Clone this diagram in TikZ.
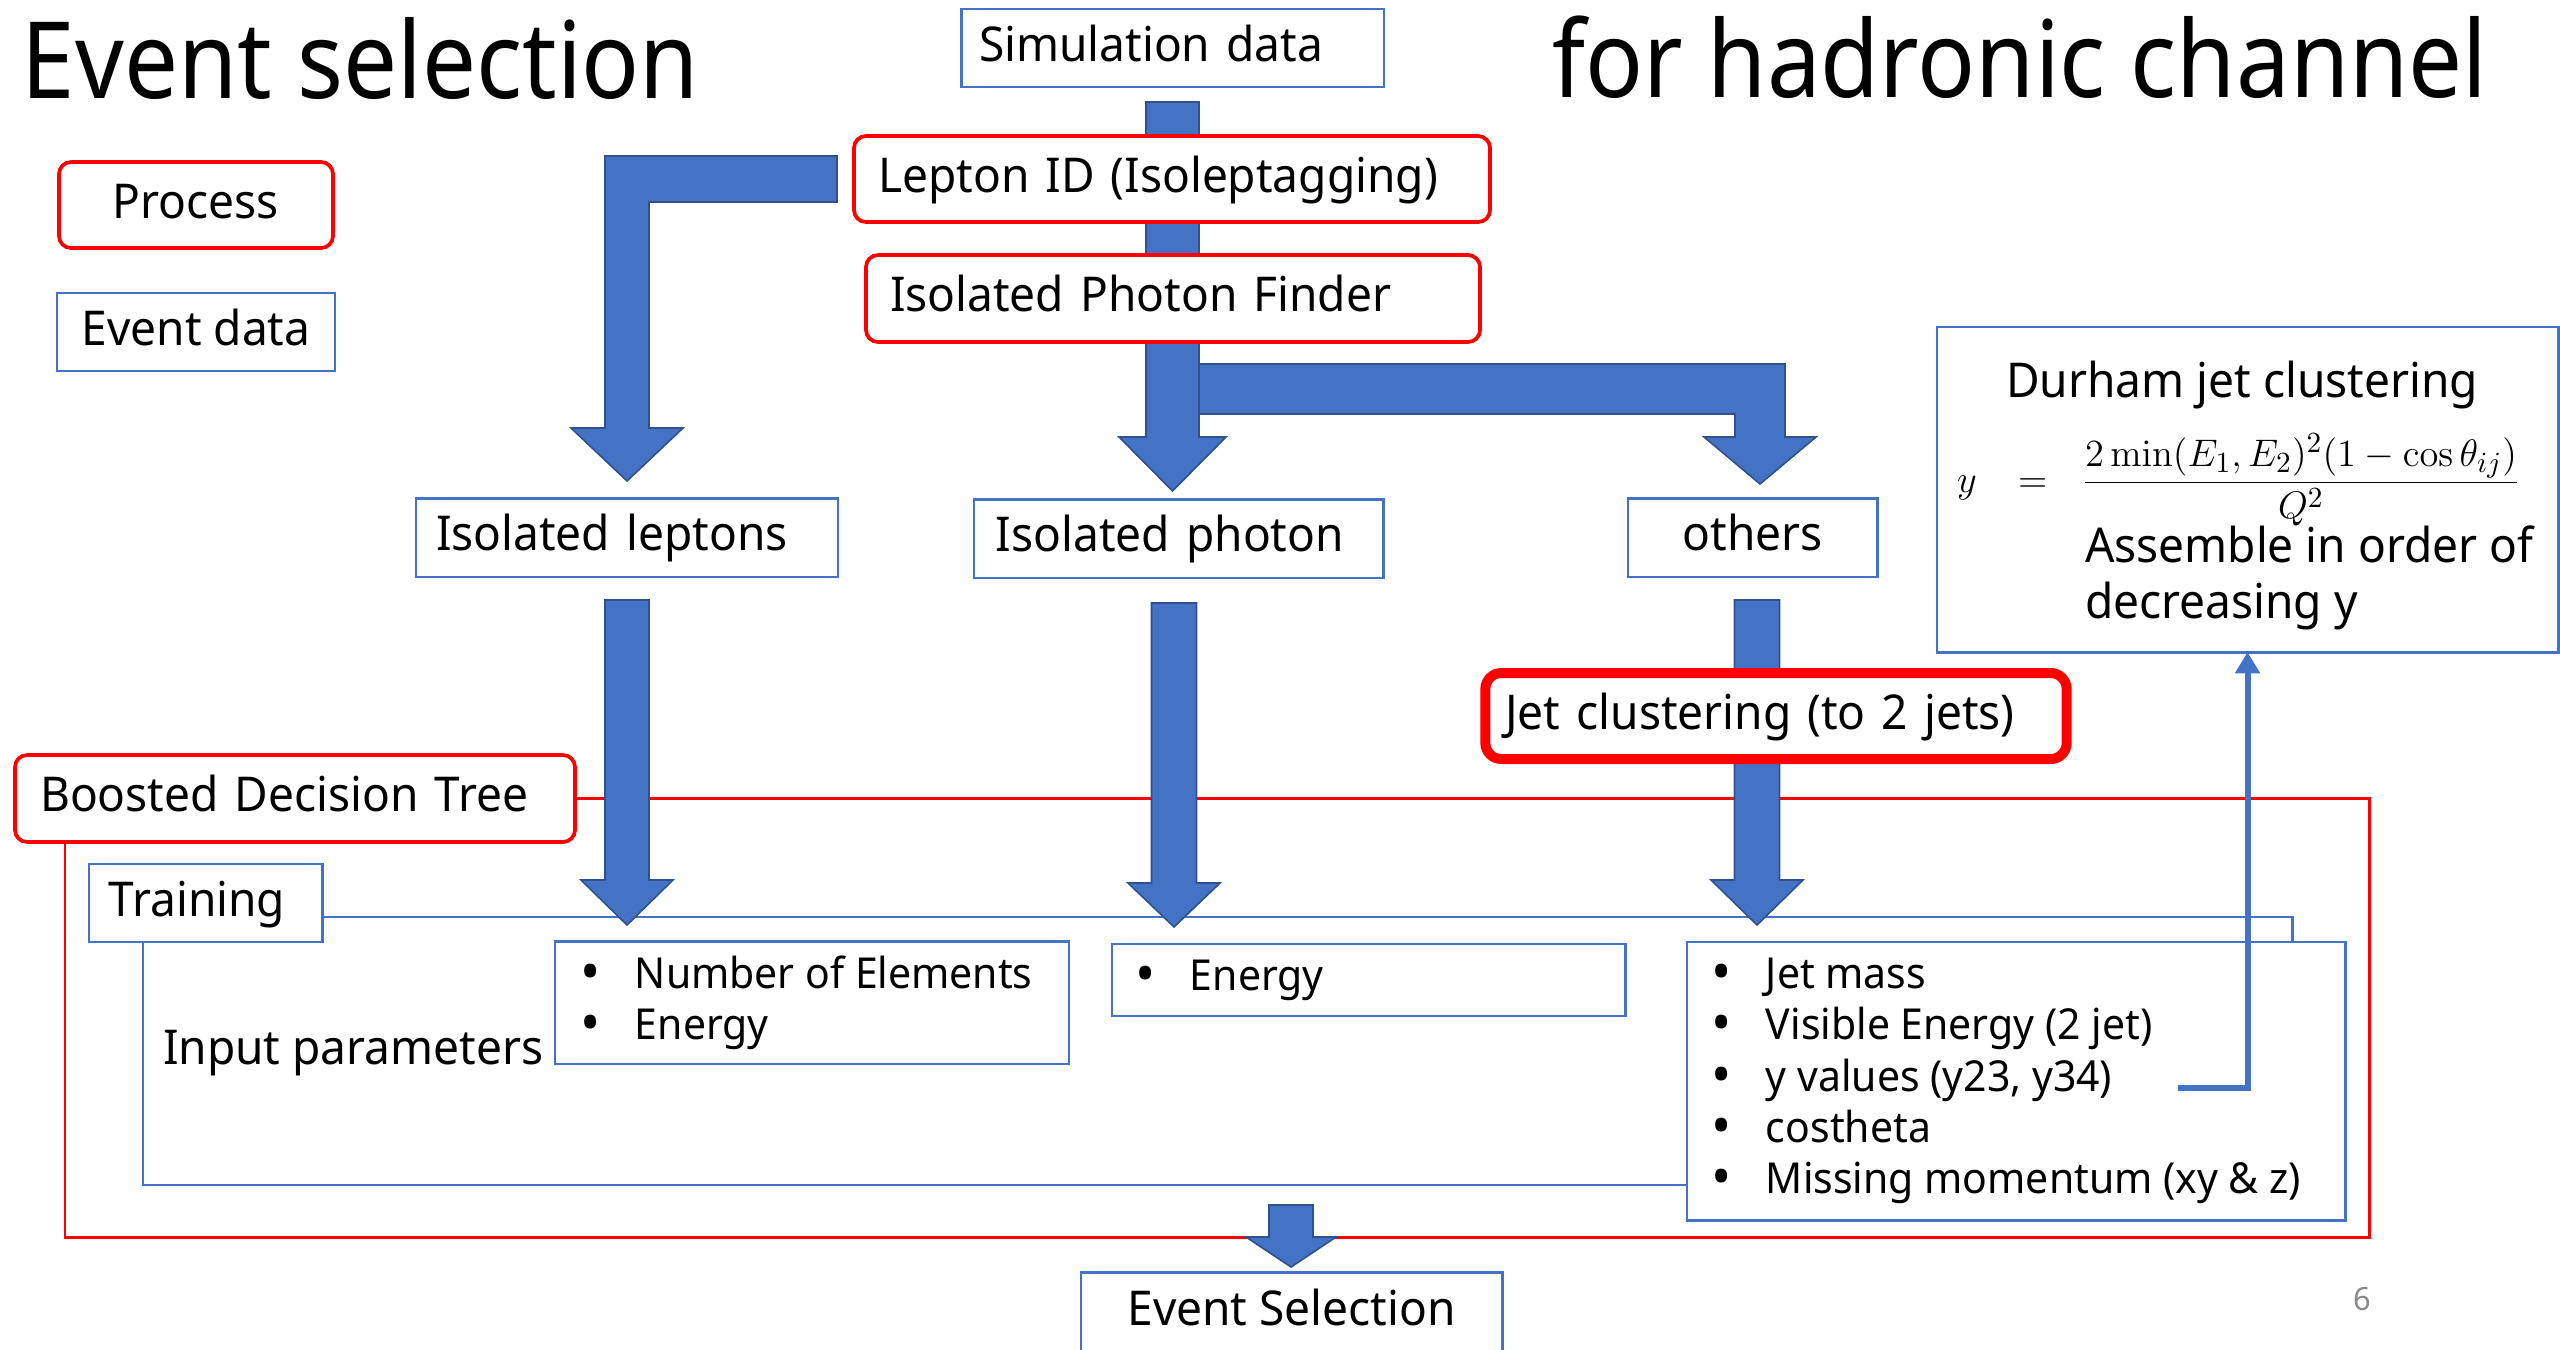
\documentclass[tikz,border=0pt]{standalone}
\usepackage[no-math]{fontspec}
\setmainfont{Noto Sans}[FakeStretch=0.96]
\newfontfamily\titlefont{Noto Sans}[FakeStretch=0.9]
\usetikzlibrary{arrows.meta,calc,backgrounds}
\definecolor{boxblue}{HTML}{4472C4}
\definecolor{fatedge}{HTML}{2F528F}
\definecolor{pagegray}{HTML}{898989}

% wide block arrow pointing down: x, top y, head base y, tip y, half shaft, half head
\newcommand{\fatdown}[6]{%
  \filldraw[fat] (#1-#5,#2) -- (#1+#5,#2) -- (#1+#5,#3) -- (#1+#6,#3) -- (#1,#4)
    -- (#1-#6,#3) -- (#1-#5,#3) -- cycle;}
% list bullet in its own column
\newcommand{\itembullet}{\makebox[20.6pt][l]{\fontsize{21}{21}\selectfont\raisebox{-1.2pt}{•}}}

\tikzset{
  every node/.style={inner sep=0pt, outer sep=0pt},
  body/.style={font=\fontsize{18}{21.6}\selectfont, text height=13.5pt, text depth=3.5pt},
  evbox/.style={body, draw=boxblue, line width=1.1pt, fill=white},
  procbox/.style={body, draw=red, line width=1.4pt, rounded corners=4.5pt, fill=white},
  plainbox/.style={draw=boxblue, line width=1.1pt, fill=white},
  fat/.style={fill=boxblue, draw=fatedge, line width=0.6pt},
  frame red/.style={draw=red, line width=1.1pt},
  frame blue/.style={draw=boxblue, line width=1.1pt},
  listtext/.style={font=\fontsize{16}{19.2}\selectfont, anchor=base west},
  titletext/.style={font=\titlefont\fontsize{40}{48}\selectfont, anchor=base west},
}

\begin{document}
\begin{tikzpicture}[x=0.375pt, y=-0.375pt]
\path[use as bounding box] (0,0) rectangle (2560,1349);

% headings
\node[titletext] (title) at (22,98) {Event selection};
\node[titletext] (subtitle) at (1552,97) {for hadronic channel};

% legend
\node[procbox, minimum width=102.75pt, minimum height=32.25pt] (proc) at (196,205) {Process};
\node[evbox, minimum width=104.25pt, minimum height=29.25pt] (evdata) at (196,332) {Event data};

% main chain
\node[evbox, align=left, text width=145.1pt, inner xsep=6.75pt, minimum height=29.25pt] (sim) at (1172.5,48) {Simulation data};
\node[procbox, align=left, text width=220.5pt, inner xsep=9pt, minimum height=32.25pt] (lep) at (1172,179) {Lepton ID (Isoleptagging)};
\node[procbox, align=left, text width=212.25pt, inner xsep=9pt, minimum height=32.6pt] (phf) at (1173,298.5) {Isolated Photon Finder};

\node[evbox, align=left, text width=143.25pt, inner xsep=7.5pt, minimum height=29.6pt] (isolep) at (627,537.5) {Isolated leptons};
\node[evbox, align=left, text width=136.9pt, inner xsep=8.25pt, minimum height=29.6pt] (isopho) at (1178.5,538.5) {Isolated photon};
\node[evbox, minimum width=93.4pt, minimum height=29.6pt] (others) at (1752.5,537.5) {others};

\node[body, draw=red, line width=3.75pt, rounded corners=6pt, fill=white, align=left,
      text width=203pt, inner xsep=7.5pt, minimum height=32.25pt] (jetcl) at (1776,716) {Jet clustering (to 2 jets)};

% Durham algorithm
\node[plainbox, minimum width=232.9pt, minimum height=121.9pt] (durham) at (2247.5,489.5) {};
\node[body, anchor=base] (dtitle) at (2242,397) {Durham jet clustering};
\node[anchor=west, font=\fontsize{15.5}{18}\selectfont] (yform) at (1957,480)
  {$\displaystyle y\hspace{11.5pt}=\hspace{9pt}\frac{2\min(E_1,E_2)^2(1-\cos\theta_{ij})}{Q^2}$};
\node[body, anchor=base west] (dasm1) at (2085,562) {Assemble in order of};
\node[body, anchor=base west] (dasm2) at (2085,618) {decreasing y};

% BDT part
\node[procbox, align=left, text width=191.2pt, inner xsep=9.4pt, minimum height=32.6pt] (bdt) at (295,798.5) {Boosted Decision Tree};
\node[evbox, align=left, text width=72.4pt, inner xsep=7.5pt, minimum height=29.25pt] (train) at (205.5,903) {Training};
\node[body, anchor=base west] (inp) at (163,1064) {Input parameters};

\node[plainbox, minimum width=192.75pt, minimum height=46.1pt] (numel) at (812,1002.5) {};
\node[listtext] (nm1) at (580,988) {\itembullet Number of Elements};
\node[listtext] (nm2) at (580,1039) {\itembullet Energy};

\node[plainbox, minimum width=192.4pt, minimum height=27pt] (energy) at (1368.5,980) {};
\node[listtext] (en1) at (1135,990) {\itembullet Energy};

\node[plainbox, minimum width=246.75pt, minimum height=104.25pt] (jetmass) at (2016,1081) {};
\node[listtext] (jm1) at (1711,988) {\itembullet Jet mass};
\node[listtext] (jm2) at (1711,1039) {\itembullet Visible Energy (2 jet)};
\node[listtext] (jm3) at (1711,1091) {\itembullet y values (y23, y34)};
\node[listtext] (jm4) at (1711,1142) {\itembullet costheta};
\node[listtext] (jm5) at (1711,1193) {\itembullet Missing momentum (xy \& z)};

\node[evbox, minimum width=157.9pt, minimum height=30pt] (evsel) at (1291.5,1312) {Event Selection};

\node[anchor=base west, font=\fontsize{12}{14}\selectfont, text=pagegray] (pg) at (2353,1310) {6};

\begin{scope}[on background layer]
  % BDT frame
  \draw[frame red] (bdt.east) -| (2369,1237) -| ($(bdt.south west)+(50,0)$);
  % training frame
  \draw[frame blue] ($(train.east)+(0,14)$) -| ($(jetmass.north east)+(-53,0)$);
  \draw[frame blue] ($(train.south west)+(54,0)$) |- ($(jetmass.south west)+(0,-35)$);

  % branch to the isolated leptons
  \filldraw[fat] (837,156) -- (605,156) -- (605,428) -- (571,428) -- (627,481) -- (683,428)
    -- (649,428) -- (649,202) -- (837,202) -- cycle;
  % branch to the remaining particles
  \filldraw[fat] (1190,364) -- (1785,364) -- (1785,437) -- (1816,437) -- (1760,484)
    -- (1704,437) -- (1735,437) -- (1735,414) -- (1190,414) -- cycle;
  % main stream down to the isolated photon
  \fatdown{1172.5}{102}{437}{491}{26.5}{53.5}
  % into the BDT inputs
  \fatdown{627}{600}{880}{925}{22}{46}
  \fatdown{1174}{603}{883}{927}{22.5}{46}
  \fatdown{1757}{600}{880}{925}{22.5}{46}
  % BDT output
  \fatdown{1291}{1205}{1237}{1267}{22}{45}
\end{scope}

% y values feed the Durham clustering
\coordinate (yv) at (2178,1088);
\draw[boxblue, line width=2.25pt, -{Triangle[width=9pt,length=8pt]}] (yv) -| (durham.south);
\end{tikzpicture}
\end{document}
